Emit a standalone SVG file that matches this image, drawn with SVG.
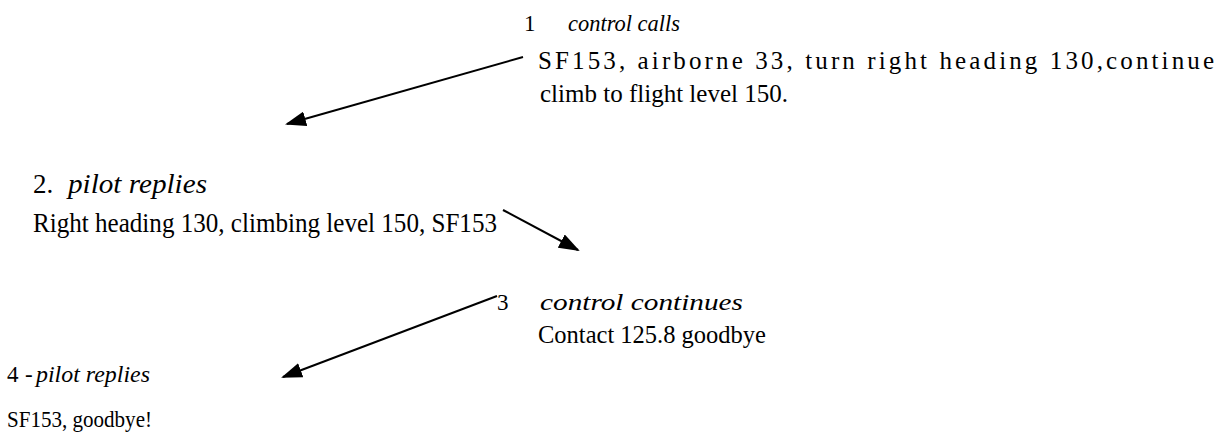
<svg xmlns="http://www.w3.org/2000/svg" width="1226" height="434" viewBox="0 0 1226 434">
<defs>
<style>
text{font-family:"Liberation Serif","Times New Roman",serif;fill:#000}
.n{font-size:25px}
.m{font-size:23px}
.i{font-style:italic}
.b{font-size:27px}
.c{stroke:#000;stroke-width:2;fill:none}
</style>
<marker id="ah" markerWidth="21" markerHeight="15" refX="19" refY="7.5" orient="auto" markerUnits="userSpaceOnUse">
<path d="M0,0 L21,7.5 L0,15 Z" fill="#000"/>
</marker>
</defs>
<rect width="1226" height="434" fill="#fff"/>
<g id="connectors">
<line class="c" x1="523" y1="57" x2="287" y2="124" marker-end="url(#ah)"/>
<line class="c" x1="503" y1="210" x2="578" y2="250" marker-end="url(#ah)"/>
<line class="c" x1="497" y1="296" x2="283" y2="377" marker-end="url(#ah)"/>
</g>
<g id="node1">
<text class="m" x="524" y="31">1</text>
<text class="m i" x="568" y="31" textLength="112" lengthAdjust="spacingAndGlyphs">control calls</text>
<text class="n" x="538" y="69" textLength="676" lengthAdjust="spacing">SF153, airborne 33, turn right heading 130,continue</text>
<text class="n" x="540" y="102" textLength="248" lengthAdjust="spacing">climb to flight level 150.</text>
</g>
<g id="node2">
<text class="b" x="33" y="193">2.</text>
<text class="b i" x="68" y="193" textLength="139" lengthAdjust="spacingAndGlyphs">pilot replies</text>
<text class="b" x="33" y="232" textLength="464" lengthAdjust="spacingAndGlyphs">Right heading 130, climbing level 150, SF153</text>
</g>
<g id="node3">
<text class="m" x="497" y="310">3</text>
<text class="m i" x="540" y="310" textLength="203" lengthAdjust="spacingAndGlyphs">control continues</text>
<text class="n" x="538" y="343" textLength="228" lengthAdjust="spacingAndGlyphs">Contact 125.8 goodbye</text>
</g>
<g id="node4">
<text class="m" x="7" y="382">4</text>
<text class="m" x="25" y="382">-</text>
<text class="m i" x="36" y="382" textLength="114" lengthAdjust="spacingAndGlyphs">pilot replies</text>
<text class="m" x="7" y="427" textLength="145" lengthAdjust="spacingAndGlyphs">SF153, goodbye!</text>
</g>
</svg>
